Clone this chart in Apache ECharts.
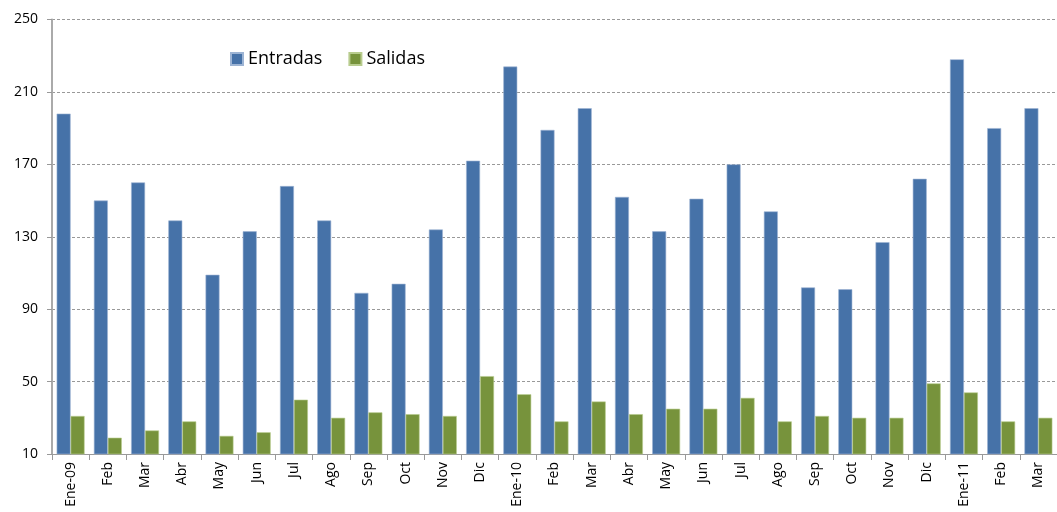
<!DOCTYPE html>
<html>
<head>
<meta charset="utf-8">
<script src="https://cdn.jsdelivr.net/npm/echarts@6/dist/echarts.min.js"></script>
<style>
  html, body { margin: 0; padding: 0; background: #fff; }
  #chart { width: 1057px; height: 512px; }
</style>
</head>
<body>
<div id="chart"></div>
<script>
// meses (ene-09 a mar-11)
var meses = ['Ene-09', 'Feb', 'Mar', 'Abr', 'May', 'Jun', 'Jul', 'Ago', 'Sep', 'Oct', 'Nov', 'Dic',
  'Ene-10', 'Feb', 'Mar', 'Abr', 'May', 'Jun', 'Jul', 'Ago', 'Sep', 'Oct', 'Nov', 'Dic',
  'Ene-11', 'Feb', 'Mar'];
var entradas = [198, 150, 160, 139, 109, 133, 158, 139, 99, 104, 134, 172,
  224, 189, 201, 152, 133, 151, 170, 144, 102, 101, 127, 162,
  228, 190, 201];
var salidas = [31, 19, 23, 28, 20, 22, 40, 30, 33, 32, 31, 53,
  43, 28, 39, 32, 35, 35, 41, 28, 31, 30, 30, 49,
  44, 28, 30];

var chart = echarts.init(document.getElementById('chart'));
chart.setOption({
  animation: false,
  textStyle: { fontFamily: 'Open Sans' },
  legend: {
    left: 225,
    top: 45,
    itemWidth: 12,
    itemHeight: 12,
    itemGap: 26,
    icon: 'rect',
    textStyle: { fontSize: 18, color: '#000', fontFamily: 'Open Sans' },
    data: ['Entradas', 'Salidas']
  },
  grid: { left: 52, right: -5, top: 19.5, bottom: 58 },
  xAxis: {
    type: 'category',
    data: meses,
    axisLine: { lineStyle: { color: '#999', width: 1 } },
    axisTick: { show: true, length: 6, lineStyle: { color: '#999' } },
    axisLabel: { rotate: 90, fontSize: 14, color: '#000', margin: 8, interval: 0 }
  },
  yAxis: {
    type: 'value',
    min: 10,
    max: 250,
    interval: 40,
    axisLine: { show: true, lineStyle: { color: '#aaa', width: 2 } },
    axisTick: { show: true, length: 5, inside: false, lineStyle: { color: '#999' } },
    axisLabel: { fontSize: 14, color: '#000', margin: 14 },
    splitLine: { lineStyle: { color: '#999', type: [3, 2], width: 1 } }
  },
  series: [
    {
      name: 'Entradas',
      type: 'bar',
      data: entradas,
      barGap: '0%',
      barCategoryGap: '25%',
      itemStyle: { color: '#4672A8', borderColor: '#9DB4D4', borderWidth: 0.6 }
    },
    {
      name: 'Salidas',
      type: 'bar',
      data: salidas,
      itemStyle: { color: '#77933C', borderColor: '#B8CC8E', borderWidth: 0.6 }
    }
  ]
});
</script>
</body>
</html>
